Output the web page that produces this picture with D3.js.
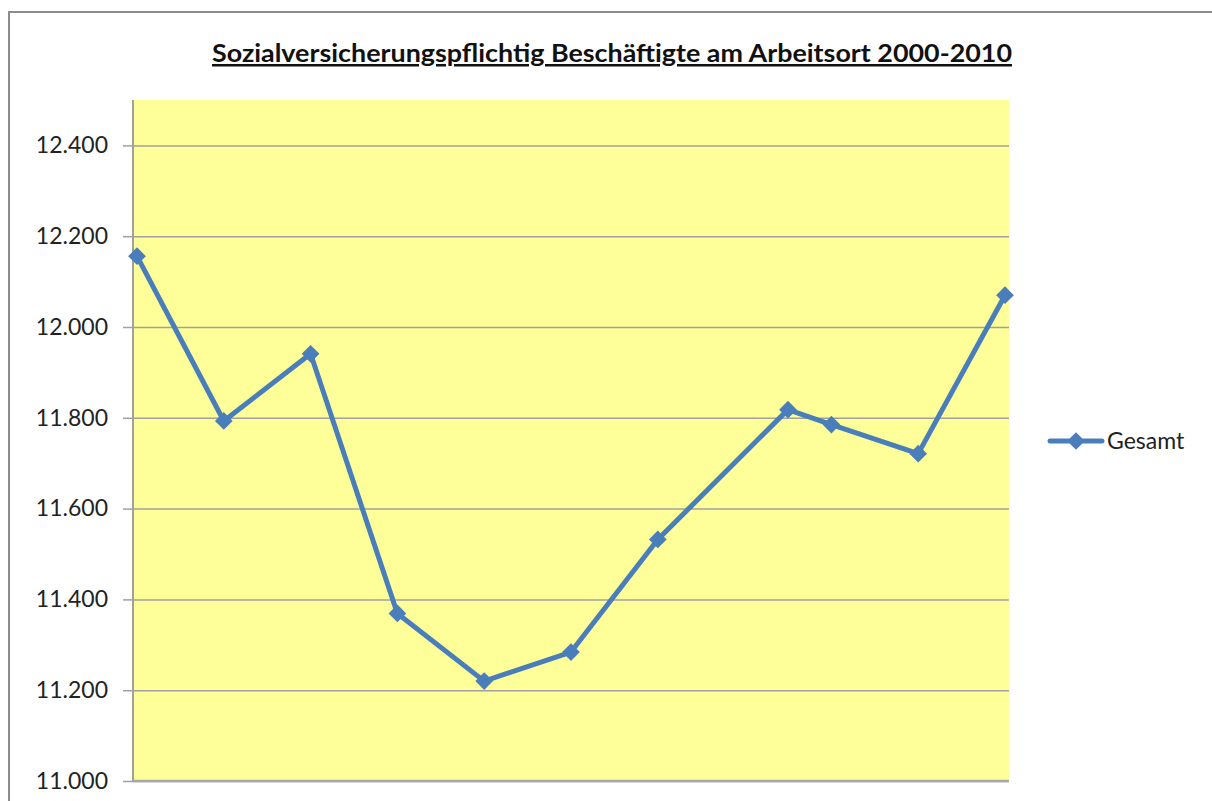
<!DOCTYPE html>
<html>
<head>
<meta charset="utf-8">
<script src="https://cdn.jsdelivr.net/npm/d3@7"></script>
<style>
  body { margin: 0; background: #fff; }
  svg { display: block; }
  .axis text { font-family: Lato, "Open Sans", sans-serif; font-size: 23px; fill: #222; }
</style>
</head>
<body>
<div class="graph"></div>
<script>
// Data (one point is mid-2007)
var years = [2000, 2001, 2002, 2003, 2004, 2005, 2006, 2007.5, 2008, 2009, 2010];
var gesamt = [12156, 11793, 11941, 11369, 11220, 11284, 11532, 11818, 11785, 11721, 12070];
var yTicks = [11000, 11200, 11400, 11600, 11800, 12000, 12200, 12400];
var seriesName = "Gesamt";
var chartTitle = "Sozialversicherungspflichtig Beschäftigte am Arbeitsort 2000-2010";

var width = 1212, height = 801;
var plot = {left: 133, right: 1009, top: 100, bottom: 781};
var blue = "#4a7ebb";

var svg = d3.select(".graph").append("svg")
    .attr("width", width)
    .attr("height", height);

// outer chart border
svg.append("rect")
    .attr("x", 9).attr("y", 12)
    .attr("width", 1240).attr("height", 900)
    .attr("fill", "none")
    .attr("stroke", "#8c8c8c")
    .attr("stroke-width", 2);

// title
svg.append("text")
    .attr("x", 612)
    .attr("y", 62)
    .attr("text-anchor", "middle")
    .attr("textLength", 800)
    .attr("lengthAdjust", "spacingAndGlyphs")
    .style("font-family", "Lato, 'Open Sans', sans-serif")
    .style("font-weight", "bold")
    .style("font-size", "25px")
    .style("text-decoration", "underline")
    .style("fill", "#111")
    .text(chartTitle);

var xScale = d3.scaleLinear().domain([2000, 2010]).range([137, 1005]);
var yScale = d3.scaleLinear().domain([11000, 12500]).range([plot.bottom, plot.top]);

// plot background
svg.append("rect")
    .attr("x", plot.left).attr("y", plot.top)
    .attr("width", plot.right - plot.left)
    .attr("height", plot.bottom - plot.top)
    .attr("fill", "#ffff99");

// gridlines
svg.append("g")
    .attr("class", "grid")
    .attr("transform", "translate(" + plot.left + ",0)")
    .call(d3.axisLeft(yScale)
        .tickValues(yTicks)
        .tickSize(-(plot.right - plot.left))
        .tickFormat(""))
    .call(function(g) { g.select(".domain").remove(); })
    .selectAll("line")
    .attr("stroke", "#a0a0a0")
    .attr("stroke-width", 1.5);

// y axis
var yAxis = svg.append("g")
    .attr("class", "axis")
    .attr("transform", "translate(" + plot.left + ",0)")
    .call(d3.axisLeft(yScale)
        .tickValues(yTicks)
        .tickSize(10)
        .tickPadding(15)
        .tickFormat(function(d) { return d3.format(".3f")(d / 1000); }));
yAxis.select(".domain")
    .attr("d", "M0," + plot.top + "V" + plot.bottom)
    .attr("stroke", "#a0a0a0")
    .attr("stroke-width", 2);
yAxis.selectAll(".tick line").attr("stroke", "#a0a0a0").attr("stroke-width", 1.5);

// x axis baseline
svg.append("line")
    .attr("x1", plot.left).attr("x2", plot.right)
    .attr("y1", plot.bottom).attr("y2", plot.bottom)
    .attr("stroke", "#a8a8a8")
    .attr("stroke-width", 2.5);

// series line
var line = d3.line()
    .x(function(d, i) { return xScale(years[i]); })
    .y(function(d) { return yScale(d); });

svg.append("path")
    .datum(gesamt)
    .attr("d", line)
    .attr("fill", "none")
    .attr("stroke", blue)
    .attr("stroke-width", 5)
    .attr("stroke-linejoin", "round");

var diamond = d3.symbol().type(d3.symbolDiamond2).size(200);

svg.selectAll(".marker")
    .data(gesamt)
    .enter()
    .append("path")
    .attr("class", "marker")
    .attr("d", diamond)
    .attr("transform", function(d, i) { return "translate(" + xScale(years[i]) + "," + yScale(d) + ")"; })
    .attr("fill", blue);

// legend
var legend = svg.append("g").attr("transform", "translate(1050,441)");
legend.append("line")
    .attr("x1", 0).attr("x2", 52)
    .attr("stroke", blue)
    .attr("stroke-width", 5)
    .attr("stroke-linecap", "round");
legend.append("path")
    .attr("d", diamond)
    .attr("transform", "translate(26,0)")
    .attr("fill", blue);
legend.append("text")
    .attr("x", 57)
    .attr("dy", "0.35em")
    .style("font-family", "Lato, 'Open Sans', sans-serif")
    .style("font-size", "23px")
    .style("fill", "#222")
    .text(seriesName);
</script>
</body>
</html>
